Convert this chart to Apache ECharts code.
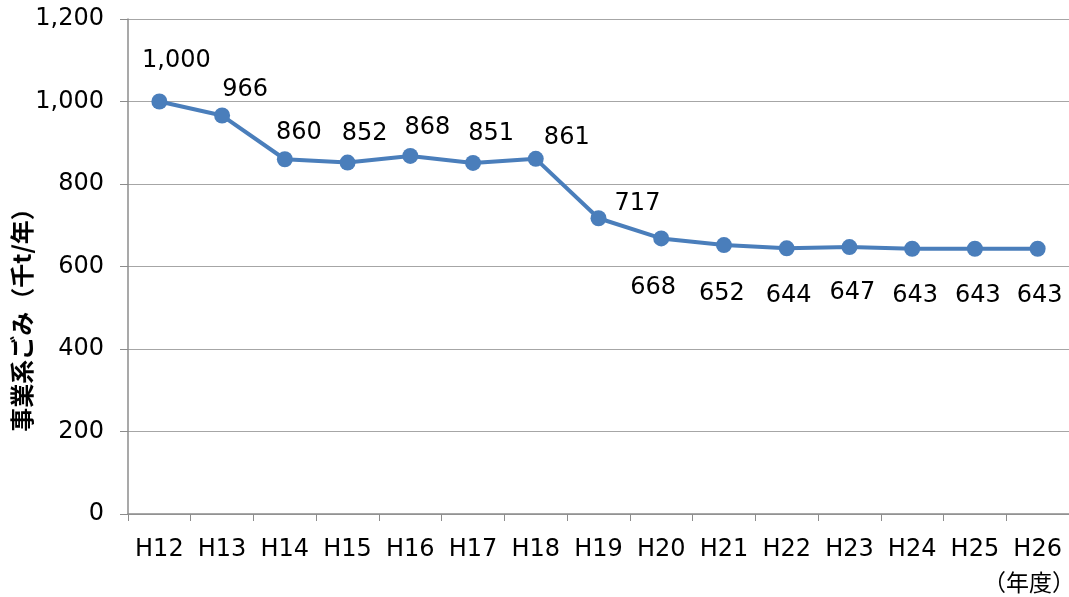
<!DOCTYPE html>
<html><head><meta charset="utf-8">
<script src="https://cdn.jsdelivr.net/npm/echarts@6/dist/echarts.min.js"></script>
<style>html,body{margin:0;padding:0;background:#fff}#c{width:1069px;height:597px}</style>
</head><body><div id="c"></div>
<script>
const categories = ['H12','H13','H14','H15','H16','H17','H18','H19','H20','H21','H22','H23','H24','H25','H26'];
const values = [1000, 966, 860, 852, 868, 851, 861, 717, 668, 652, 644, 647, 643, 643, 643];
const yTicks = [0, 200, 400, 600, 800, 1000, 1200];
const yTitle = '事業系ごみ（千t/年）';
const xUnit = '（年度）';

// label offsets (style only)
const labelOffsets = [[17,-41],[23,-26],[14,-26],[17,-29],[17,-28],[18,-29],[31,-21],[39,-14],
  [-8,49],[-2,49],[2,47],[3,46],[3,47],[3,47],[2,47]];

const FONT = 'DejaVu Sans';
const FS = 24;
const chart = echarts.init(document.getElementById('c'));
chart.setOption({
  animation: false,
  backgroundColor: '#fff',
  grid: { left: 128, right: 0, top: 19, bottom: 83 },
  xAxis: {
    type: 'category', data: categories, boundaryGap: true,
    axisLine: { lineStyle: { color: '#8c8c8c', width: 1.5 } },
    axisTick: { show: true, interval: 0, length: 7, lineStyle: { color: '#8c8c8c' } },
    axisLabel: { interval: 0, color: '#000', fontFamily: FONT, fontSize: FS, margin: 24 }
  },
  yAxis: {
    type: 'value', min: yTicks[0], max: yTicks[yTicks.length-1], interval: 200,
    axisLine: { show: true, lineStyle: { color: '#8c8c8c', width: 1.5 } },
    axisTick: { show: true, length: 8, lineStyle: { color: '#8c8c8c' } },
    splitLine: { lineStyle: { color: '#a6a6a6', width: 1.2 } },
    axisLabel: { color: '#000', fontFamily: FONT, fontSize: FS, margin: 24,
      formatter: v => v.toLocaleString('en-US') }
  },
  graphic: [
    { type: 'text', x: 22, y: 314, rotation: Math.PI/2,
      style: { text: yTitle, fill: '#000', font: 'bold 24px "Noto Sans CJK JP"', textAlign: 'center', textVerticalAlign: 'middle' } },
    { type: 'text', x: 1029, y: 582,
      style: { text: xUnit, fill: '#000', font: '23px "Noto Sans CJK JP"', textAlign: 'center', textVerticalAlign: 'middle' } }
  ],
  series: [{
    type: 'line', data: values.map((v, i) => ({ value: v, label: { offset: labelOffsets[i] } })),
    symbol: 'circle', symbolSize: 16,
    lineStyle: { color: '#4a7ebb', width: 4 },
    itemStyle: { color: '#4a7ebb' },
    label: { show: true, position: 'inside', color: '#000', fontFamily: FONT, fontSize: FS,
      formatter: p => p.value.toLocaleString('en-US') }
  }]
});
</script></body></html>
